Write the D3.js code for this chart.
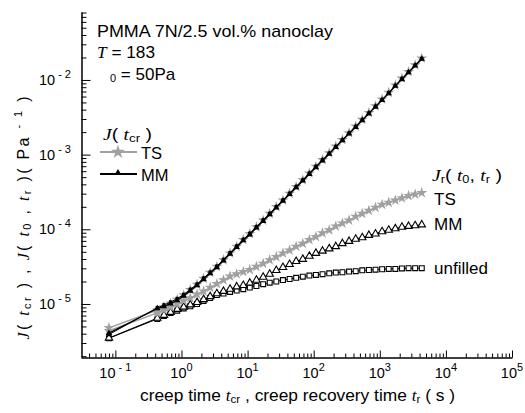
<!DOCTYPE html>
<html><head><meta charset="utf-8">
<script src="https://cdn.jsdelivr.net/npm/d3@7"></script>
<style>body{margin:0;background:#fff}svg{display:block}</style>
</head><body>
<svg id="c" width="525" height="413"></svg>
<script>
// ---- data ----
const times = [0.08, 0.431, 0.543, 0.684, 0.861, 1.08, 1.36, 1.72, 2.16, 2.72, 3.43, 4.32, 5.43, 6.84, 8.61, 10.8, 13.6, 17.2, 21.6, 27.2, 34.3, 43.2, 54.3, 68.4, 86.1, 108, 136, 172, 216, 272, 343, 432, 543, 684, 861, 1084, 1365, 1718, 2163, 2723, 3428, 4315];
const creepTS = [4.79e-6, 8.32e-6, 9.12e-6, 1.02e-5, 1.15e-5, 1.32e-5, 1.55e-5, 1.82e-5, 2.19e-5, 2.63e-5, 3.16e-5, 3.89e-5, 4.79e-5, 5.89e-5, 7.24e-5, 8.71e-5, 1.07e-4, 1.32e-4, 1.62e-4, 2.00e-4, 2.45e-4, 3.02e-4, 3.72e-4, 4.57e-4, 5.62e-4, 6.92e-4, 8.51e-4, 1.05e-3, 1.29e-3, 1.58e-3, 1.95e-3, 2.40e-3, 2.95e-3, 3.63e-3, 4.47e-3, 5.50e-3, 6.76e-3, 8.51e-3, 1.05e-2, 1.29e-2, 1.58e-2, 1.95e-2];
const creepMM = [4.07e-6, 8.7e-6, 9.3e-6, 1.01e-5, 1.12e-5, 1.28e-5, 1.50e-5, 1.78e-5, 2.14e-5, 2.57e-5, 3.09e-5, 3.80e-5, 4.68e-5, 5.75e-5, 7.08e-5, 8.51e-5, 1.05e-4, 1.29e-4, 1.58e-4, 1.95e-4, 2.40e-4, 2.95e-4, 3.63e-4, 4.47e-4, 5.50e-4, 6.76e-4, 8.32e-4, 1.02e-3, 1.26e-3, 1.55e-3, 1.91e-3, 2.34e-3, 2.88e-3, 3.55e-3, 4.37e-3, 5.37e-3, 6.61e-3, 8.32e-3, 1.02e-2, 1.26e-2, 1.55e-2, 1.91e-2];
const creepUnfilled = [3.9e-6, 8.9e-6, 9.7e-6, 1.06e-5, 1.18e-5, 1.34e-5, 1.57e-5, 1.84e-5, 2.21e-5, 2.66e-5, 3.2e-5, 3.94e-5, 4.85e-5, 5.96e-5, 7.3e-5, 8.8e-5, 1.08e-4, 1.33e-4, 1.63e-4, 2.01e-4, 2.46e-4, 3.03e-4, 3.73e-4, 4.58e-4, 5.63e-4, 6.93e-4, 8.5e-4, 1.04e-3, 1.28e-3, 1.57e-3, 1.93e-3, 2.37e-3, 2.92e-3, 3.59e-3, 4.42e-3, 5.44e-3, 6.7e-3, 8.4e-3, 1.04e-2, 1.28e-2, 1.57e-2, 1.93e-2];
const recTS = [4.37e-6, 7.59e-6, 8.32e-6, 9.12e-6, 1.00e-5, 1.10e-5, 1.20e-5, 1.35e-5, 1.48e-5, 1.66e-5, 1.86e-5, 2.09e-5, 2.34e-5, 2.51e-5, 2.69e-5, 2.88e-5, 3.16e-5, 3.47e-5, 3.89e-5, 4.27e-5, 4.79e-5, 5.25e-5, 5.89e-5, 6.46e-5, 7.24e-5, 7.94e-5, 8.91e-5, 9.77e-5, 1.10e-4, 1.20e-4, 1.32e-4, 1.48e-4, 1.62e-4, 1.78e-4, 1.95e-4, 2.14e-4, 2.29e-4, 2.45e-4, 2.63e-4, 2.82e-4, 2.95e-4, 3.09e-4];
const recMM = [3.51e-6, 6.46e-6, 7.08e-6, 7.76e-6, 8.51e-6, 9.12e-6, 9.77e-6, 1.05e-5, 1.15e-5, 1.26e-5, 1.38e-5, 1.48e-5, 1.58e-5, 1.70e-5, 1.78e-5, 1.91e-5, 2.09e-5, 2.29e-5, 2.51e-5, 2.82e-5, 3.09e-5, 3.39e-5, 3.72e-5, 3.98e-5, 4.37e-5, 4.79e-5, 5.13e-5, 5.50e-5, 5.89e-5, 6.46e-5, 6.92e-5, 7.41e-5, 7.76e-5, 8.32e-5, 8.71e-5, 9.33e-5, 9.77e-5, 1.02e-4, 1.07e-4, 1.10e-4, 1.12e-4, 1.15e-4];
const recUnfilled = [3.47e-6, 6.31e-6, 6.92e-6, 7.59e-6, 8.13e-6, 8.71e-6, 9.33e-6, 1.00e-5, 1.10e-5, 1.20e-5, 1.32e-5, 1.38e-5, 1.45e-5, 1.51e-5, 1.58e-5, 1.66e-5, 1.74e-5, 1.84e-5, 1.93e-5, 2.00e-5, 2.09e-5, 2.16e-5, 2.24e-5, 2.32e-5, 2.40e-5, 2.45e-5, 2.51e-5, 2.57e-5, 2.63e-5, 2.66e-5, 2.72e-5, 2.75e-5, 2.82e-5, 2.85e-5, 2.88e-5, 2.92e-5, 2.95e-5, 2.95e-5, 2.99e-5, 3.02e-5, 3.02e-5, 3.02e-5];
const xTickExps = [-1, 0, 1, 2, 3, 4, 5];
const yTickExps = [-5, -4, -3, -2];

// ---- layout ----
const svg = d3.select("#c");
const SANS = "'Liberation Sans', Arial, sans-serif";
const SERIF = "'Liberation Serif', 'Times New Roman', serif";
const GRAY = "#a0a0a0";
const FS = 17;
const x = d3.scaleLog().domain([Math.pow(10, -1.52), 1e5]).range([81, 512]);
const y = d3.scaleLog().domain([Math.pow(10, -5.71), Math.pow(10, -1.09)]).range([357, 12]);

// minor tick values
const xMinor = [], yMinor = [];
for (let e = -2; e <= 4; e++) for (let m = 2; m <= 9; m++) { const v = m * Math.pow(10, e); if (v >= x.domain()[0] && v <= x.domain()[1]) xMinor.push(v); }
for (let e = -6; e <= -2; e++) for (let m = 2; m <= 9; m++) { const v = m * Math.pow(10, e); if (v >= y.domain()[0] && v <= y.domain()[1]) yMinor.push(v); }
const xMajor = xTickExps.map(e => Math.pow(10, e));
const yMajor = yTickExps.map(e => Math.pow(10, e));

function styleAxis(g) { g.selectAll("path,line").attr("stroke", "#000").attr("stroke-width", 1); g.selectAll("text").remove(); }
svg.append("g").attr("transform", "translate(0,357.5)")
  .call(d3.axisBottom(x).tickValues(xMinor).tickSize(-4).tickSizeOuter(0).tickFormat("")).call(styleAxis);
svg.append("g").attr("transform", "translate(0,357.5)")
  .call(d3.axisBottom(x).tickValues(xMajor).tickSize(-7).tickSizeOuter(0).tickFormat("")).call(styleAxis);
svg.append("g").attr("transform", "translate(81.5,0)")
  .call(d3.axisLeft(y).tickValues(yMinor).tickSize(-5).tickSizeOuter(0).tickFormat("")).call(styleAxis);
svg.append("g").attr("transform", "translate(81.5,0)")
  .call(d3.axisLeft(y).tickValues(yMajor).tickSize(-9).tickSizeOuter(0).tickFormat("")).call(styleAxis);

// tick labels
xTickExps.forEach(e => {
  const t = svg.append("text").attr("x", x(Math.pow(10, e))).attr("y", 378).attr("text-anchor", "middle")
    .attr("font-family", SANS).attr("font-size", 14.5);
  t.append("tspan").text("10");
  t.append("tspan").attr("dy", -7).attr("font-size", 11).text(e < 0 ? " - " + (-e) : String(e));
});
yTickExps.forEach(e => {
  const t = svg.append("text").attr("x", 71).attr("y", y(Math.pow(10, e)) + 5).attr("text-anchor", "end")
    .attr("font-family", SANS).attr("font-size", 14.5);
  t.append("tspan").text("10");
  t.append("tspan").attr("dy", -7).attr("font-size", 11).text(" - " + (-e));
});

// ---- series ----
const line = d3.line().x(d => x(d[0])).y(d => y(d[1]));
const star = d3.symbol().type(d3.symbolStar).size(38)();
const triF = d3.symbol().type(d3.symbolTriangle).size(18)();
const triO = d3.symbol().type(d3.symbolTriangle).size(24)();
const sqr = d3.symbol().type(d3.symbolSquare).size(24)();
const sqrF = d3.symbol().type(d3.symbolSquare).size(12)();
function series(vals, opt) {
  const pts = times.map((t, i) => [t, vals[i]]);
  svg.append("path").datum(pts).attr("d", line).attr("fill", "none")
    .attr("stroke", opt.stroke).attr("stroke-width", opt.lw);
  svg.append("g").selectAll("path").data(pts).join("path")
    .attr("transform", d => `translate(${x(d[0])},${y(d[1])})`)
    .attr("d", opt.sym).attr("fill", opt.fill).attr("stroke", opt.mstroke || "none").attr("stroke-width", opt.msw || 0);
}
series(recUnfilled, {stroke: "#000", lw: 1, sym: sqr, fill: "#fff", mstroke: "#000", msw: 1.1});
series(recMM, {stroke: "#000", lw: 1, sym: triO, fill: "#fff", mstroke: "#000", msw: 1.1});
series(recTS, {stroke: GRAY, lw: 1.5, sym: star, fill: GRAY});
series(creepTS, {stroke: GRAY, lw: 1.5, sym: star, fill: GRAY});
series(creepUnfilled, {stroke: "#000", lw: 1, sym: sqrF, fill: "#000"});
series(creepMM, {stroke: "#000", lw: 1.2, sym: triF, fill: "#000"});

// ---- annotations ----
function txt(xp, yp, size, len) {
  const t = svg.append("text").attr("x", xp).attr("y", yp).attr("font-family", SANS).attr("font-size", size).attr("fill", "#000");
  if (len) t.attr("textLength", len).attr("lengthAdjust", "spacingAndGlyphs");
  return t;
}
txt(97, 37, FS, 236).text("PMMA 7N/2.5 vol.% nanoclay");
const tt = txt(97, 58, FS, 58);
tt.append("tspan").attr("font-family", SERIF).attr("font-style", "italic").text("T");
tt.append("tspan").text(" = 183");
const sg = txt(110, 80, FS);
sg.append("tspan").attr("font-size", 11).attr("dy", 2).text("0");
sg.append("tspan").attr("dy", -2).text(" = 50Pa");

// legend
const lj = txt(103, 140, 16, 49);
lj.append("tspan").attr("font-family", SERIF).attr("font-style", "italic").text("J");
lj.append("tspan").text("( ");
lj.append("tspan").attr("font-family", SERIF).attr("font-style", "italic").text("t");
lj.append("tspan").attr("font-size", 11).attr("dy", 2).text("cr");
lj.append("tspan").attr("dy", -2).text(" )");
svg.append("line").attr("x1", 100).attr("x2", 137).attr("y1", 152).attr("y2", 152).attr("stroke", GRAY).attr("stroke-width", 2);
svg.append("path").attr("d", d3.symbol().type(d3.symbolStar).size(60)()).attr("transform", "translate(118,152)").attr("fill", GRAY);
txt(141, 159, 16.5).text("TS");
svg.append("line").attr("x1", 100).attr("x2", 137).attr("y1", 174).attr("y2", 174).attr("stroke", "#000").attr("stroke-width", 2);
svg.append("path").attr("d", d3.symbol().type(d3.symbolTriangle).size(22)()).attr("transform", "translate(118,173)").attr("fill", "#000");
txt(141, 181, 16.5).text("MM");

// right labels
const jr = txt(432, 181, FS, 70);
jr.append("tspan").attr("font-family", SERIF).attr("font-style", "italic").text("J");
jr.append("tspan").attr("font-size", 11).attr("dy", 2).text("r");
jr.append("tspan").attr("dy", -2).text("( ");
jr.append("tspan").attr("font-family", SERIF).attr("font-style", "italic").text("t");
jr.append("tspan").attr("font-size", 11).attr("dy", 2).text("0");
jr.append("tspan").attr("dy", -2).text(", ");
jr.append("tspan").attr("font-family", SERIF).attr("font-style", "italic").text("t");
jr.append("tspan").attr("font-size", 11).attr("dy", 2).text("r");
jr.append("tspan").attr("dy", -2).text(" )");
txt(434, 205, FS).text("TS");
txt(434, 230, FS).text("MM");
txt(434, 274, FS).text("unfilled");

// axis titles
const xt = txt(140, 401, 16.5, 315);
xt.append("tspan").text("creep time ");
xt.append("tspan").attr("font-family", SERIF).attr("font-style", "italic").text("t");
xt.append("tspan").attr("font-size", 11).attr("dy", 2).text("cr");
xt.append("tspan").attr("dy", -2).text(" , creep recovery time ");
xt.append("tspan").attr("font-family", SERIF).attr("font-style", "italic").text("t");
xt.append("tspan").attr("font-size", 11).attr("dy", 2).text("r");
xt.append("tspan").attr("dy", -2).text(" ( s )");

const yt = svg.append("text").attr("transform", "translate(29,218) rotate(-90)").attr("text-anchor", "middle")
  .attr("font-family", SANS).attr("font-size", 16).attr("textLength", 243).attr("lengthAdjust", "spacing");
yt.append("tspan").attr("font-family", SERIF).attr("font-style", "italic").text("J");
yt.append("tspan").text("( ");
yt.append("tspan").attr("font-family", SERIF).attr("font-style", "italic").text("t");
yt.append("tspan").attr("font-size", 11).attr("dy", 2).text("cr");
yt.append("tspan").attr("dy", -2).text(" )  , ");
yt.append("tspan").attr("font-family", SERIF).attr("font-style", "italic").text("J");
yt.append("tspan").text("( ");
yt.append("tspan").attr("font-family", SERIF).attr("font-style", "italic").text("t");
yt.append("tspan").attr("font-size", 11).attr("dy", 2).text("0");
yt.append("tspan").attr("dy", -2).text(" , ");
yt.append("tspan").attr("font-family", SERIF).attr("font-style", "italic").text("t");
yt.append("tspan").attr("font-size", 11).attr("dy", 2).text("r");
yt.append("tspan").attr("dy", -2).text(" )( Pa ");
yt.append("tspan").attr("font-size", 11).attr("dy", -7).text("- 1");
yt.append("tspan").attr("dy", 7).text(" )");
</script>
</body></html>
